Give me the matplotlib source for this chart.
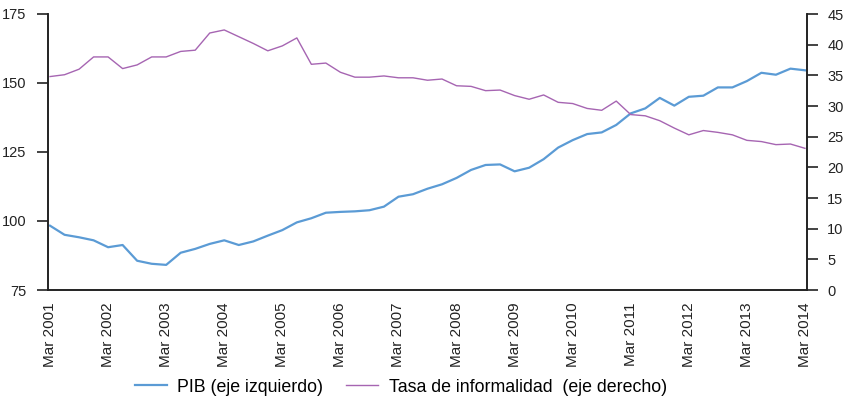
import matplotlib
matplotlib.use("Agg")
import matplotlib.pyplot as plt

plt.rcParams['font.family'] = ['Liberation Sans', 'DejaVu Sans']

# quarterly data, Mar 2001 - Mar 2014
years = list(range(2001, 2015))
tick_labels = [f"Mar {y}" for y in years]

pib = [98.3, 95.0, 94.1, 93.0, 90.5, 91.3, 85.6, 84.5, 84.1, 88.5,
       89.9, 91.7, 93.0, 91.3, 92.6, 94.7, 96.7, 99.5, 101.0, 103.0,
       103.3, 103.5, 103.9, 105.2, 108.8, 109.7, 111.7, 113.3, 115.6, 118.5,
       120.3, 120.5, 118.0, 119.3, 122.4, 126.6, 129.3, 131.5, 132.1, 134.8,
       139.0, 140.8, 144.6, 141.8, 145.0, 145.4, 148.4, 148.4, 150.7, 153.7,
       153.0, 155.2, 154.6]

informalidad = [34.8, 35.1, 36.0, 38.0, 38.0, 36.1, 36.7, 38.0, 38.0, 38.9,
                39.1, 41.9, 42.4, 41.3, 40.2, 39.0, 39.8, 41.1, 36.8, 37.0,
                35.5, 34.7, 34.7, 34.9, 34.6, 34.6, 34.2, 34.4, 33.3, 33.2,
                32.5, 32.6, 31.7, 31.1, 31.8, 30.6, 30.4, 29.6, 29.3, 30.8,
                28.6, 28.4, 27.6, 26.4, 25.3, 26.0, 25.7, 25.3, 24.4, 24.2,
                23.7, 23.8, 23.1]

x = list(range(len(pib)))
blue = '#5b9bd5'
purple = '#a665b2'

fig = plt.figure(figsize=(8.47, 4.03), dpi=100)
ax = fig.add_axes([48 / 847, 1 - 290 / 403, (807 - 48) / 847, 276 / 403])
ax2 = ax.twinx()

l1, = ax.plot(x, pib, color=blue, lw=1.6, label='PIB (eje izquierdo)')
l2, = ax2.plot(x, informalidad, color=purple, lw=1.0,
               label='Tasa de informalidad  (eje derecho)')

ax.set_xlim(-0.14, len(pib) - 1 + 0.14)
ax.set_ylim(75, 175)
ax.set_yticks(range(75, 176, 25))
ax2.set_ylim(0, 45)
ax2.set_yticks(range(0, 46, 5))

ax.set_xticks(x[::4])
ax.set_xticklabels(tick_labels, rotation=90)
ax.tick_params(axis='x', length=0, pad=9, labelsize=11, colors='#222222')
ax.tick_params(axis='y', direction='out', length=8, width=1.2, pad=7.5,
               labelsize=10.5, colors='#222222')
ax2.tick_params(axis='y', direction='out', length=8, width=1.2, pad=6.5,
                labelsize=10.5, colors='#222222')

for a in (ax, ax2):
    a.spines['top'].set_visible(False)
    for s in ('left', 'right', 'bottom'):
        a.spines[s].set_linewidth(1.2)
        a.spines[s].set_color('#222222')

fig.legend(handles=[l1, l2], loc='center', bbox_to_anchor=(401 / 847, 1 - 387 / 403),
           ncol=2, frameon=False, fontsize=12.8, handlelength=1.8,
           handletextpad=0.6, columnspacing=1.3)

fig.savefig('out.png', dpi=100)
